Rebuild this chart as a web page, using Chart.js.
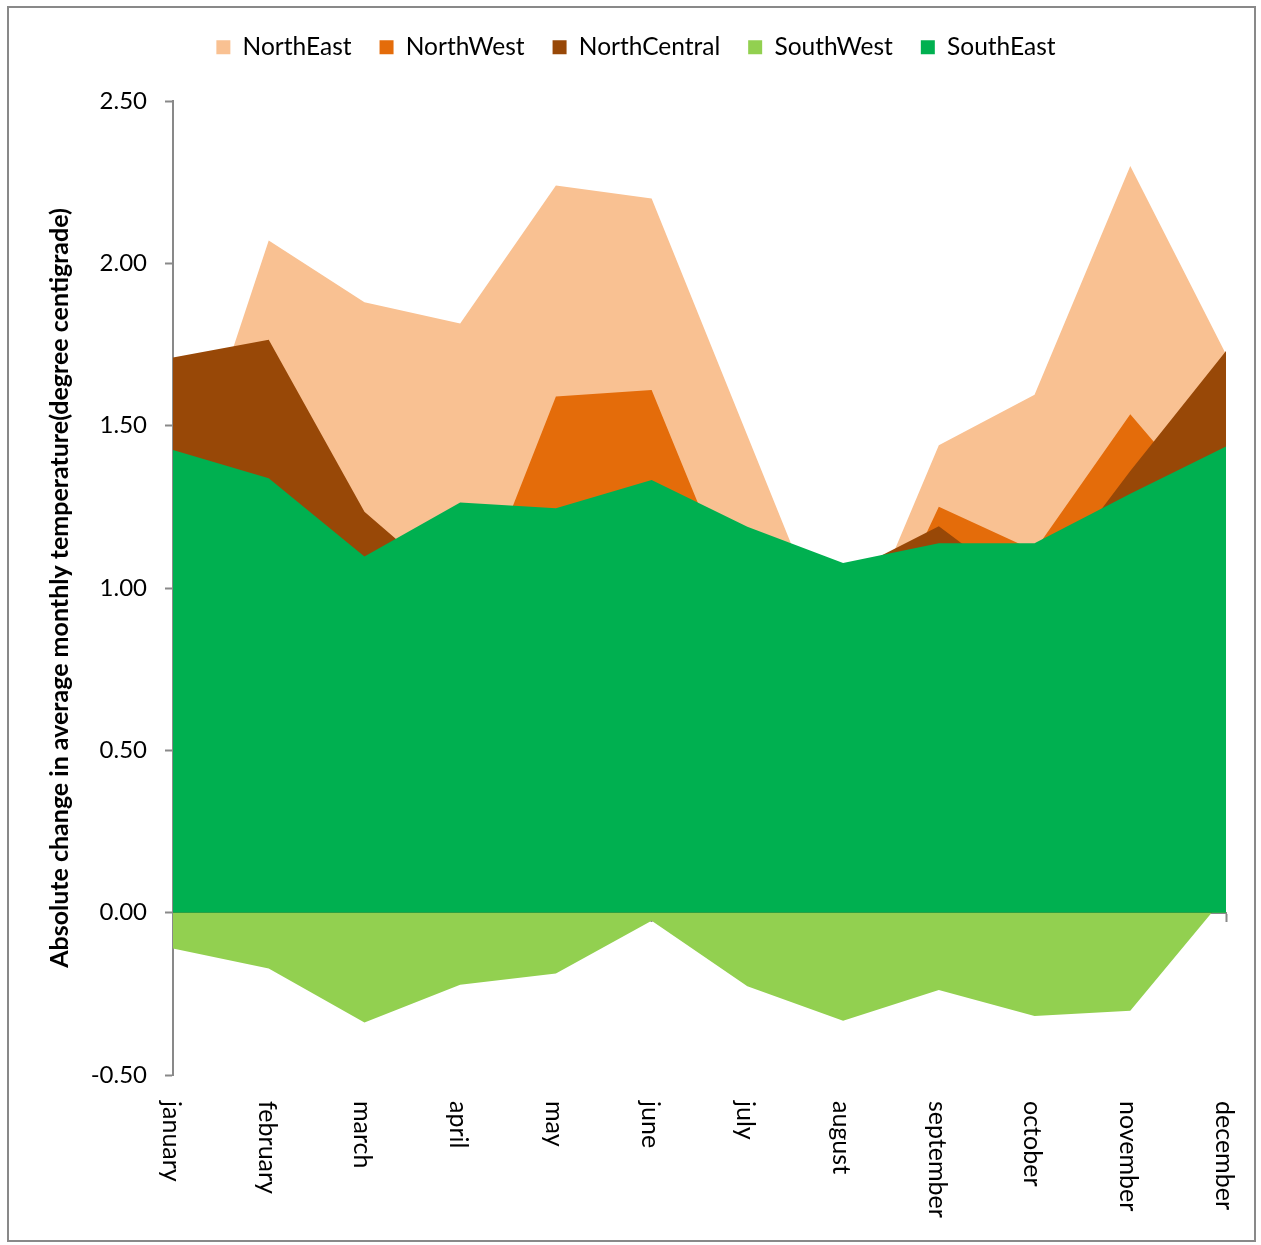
<!DOCTYPE html>
<html>
<head>
<meta charset="utf-8">
<style>
  html, body { margin: 0; padding: 0; background: #fff; }
  #wrap { width: 1261px; height: 1245px; }
</style>
<script src="https://cdn.jsdelivr.net/npm/chart.js@4.4.1/dist/chart.umd.min.js"></script>
</head>
<body>
<div id="wrap"><canvas id="chart" width="1261" height="1245"></canvas></div>
<script>
// Months along the horizontal axis
const months = ['january', 'february', 'march', 'april', 'may', 'june',
                'july', 'august', 'september', 'october', 'november', 'december'];

// Absolute change in average monthly temperature per region (°C)
const northEast    = [1.18, 2.07, 1.88, 1.815, 2.24, 2.20, 1.47, 0.74, 1.44, 1.595, 2.30, 1.72];
const northWest    = [1.20, 1.15, 1.00, 0.84, 1.59, 1.61, 0.89, 0.62, 1.25, 1.115, 1.535, 1.19];
const northCentral = [1.71, 1.765, 1.235, 0.98, 1.05, 1.10, 1.00, 1.04, 1.19, 0.97, 1.36, 1.73];
const southWest    = [-0.11, -0.172, -0.338, -0.222, -0.187, -0.025, -0.227, -0.333, -0.238, -0.318, -0.302, 0.053];
const southEast    = [1.425, 1.338, 1.097, 1.263, 1.246, 1.333, 1.189, 1.077, 1.138, 1.138, 1.29, 1.436];

// Region names and fill colours
const regionNames  = ['NorthEast', 'NorthWest', 'NorthCentral', 'SouthWest', 'SouthEast'];
const regionColors = ['#F9C192', '#E46C0A', '#984807', '#92D050', '#00B050'];

// Value axis range
const yMin = -0.5, yMax = 2.5, yStep = 0.5;

const axisGray = '#898989';
const fontFamily = 'Lato, "Open Sans", sans-serif';
Chart.defaults.font.family = fontFamily;
Chart.defaults.font.size = 24;
Chart.defaults.color = '#000';

const seriesValues = [northEast, northWest, northCentral, southWest, southEast];

// Later regions are painted over earlier ones (higher order = drawn first)
const datasets = regionNames.map((name, i) => ({
  label: name,
  data: seriesValues[i],
  backgroundColor: regionColors[i],
  borderColor: regionColors[i],
  borderWidth: 0,
  pointRadius: 0,
  pointHoverRadius: 0,
  tension: 0,
  fill: 'origin',
  order: regionNames.length - i
}));

// Page frame drawn around the whole figure
const framePlugin = {
  id: 'frame',
  beforeDraw(chart) {
    const ctx = chart.ctx;
    ctx.save();
    ctx.fillStyle = '#fff';
    ctx.fillRect(0, 0, chart.width, chart.height);
    ctx.strokeStyle = axisGray;
    ctx.lineWidth = 2;
    ctx.strokeRect(8, 7, 1247, 1234);
    ctx.restore();
  }
};

// Extra room between legend and plot; legend centred on the frame
const legendSpacing = {
  id: 'legendSpacing',
  beforeInit(chart) {
    const fit = chart.legend.fit;
    chart.legend.fit = function () {
      fit.bind(chart.legend)();
      this.height += 31.5;
    };
  },
  afterLayout(chart) {
    chart.legend.left += 23;
    chart.legend.right += 23;
  }
};

// Month names written downward below the plot
const monthLabels = {
  id: 'monthLabels',
  afterDraw(chart) {
    const xs = chart.scales.x;
    const ctx = chart.ctx;
    ctx.save();
    ctx.font = '25px ' + fontFamily;
    ctx.fillStyle = '#000';
    ctx.textAlign = 'left';
    ctx.textBaseline = 'middle';
    months.forEach((m, i) => {
      ctx.save();
      ctx.translate(xs.getPixelForValue(i) - 2, chart.chartArea.bottom + 26);
      ctx.rotate(Math.PI / 2);
      ctx.fillText(m, 0, 0);
      ctx.restore();
    });
    ctx.restore();
  }
};

new Chart(document.getElementById('chart'), {
  type: 'line',
  data: { labels: months, datasets },
  plugins: [framePlugin, legendSpacing, monthLabels],
  options: {
    responsive: false,
    animation: false,
    devicePixelRatio: 1,
    layout: { padding: { top: 7, left: 0, right: 35, bottom: 170 } },
    plugins: {
      tooltip: { enabled: false },
      legend: {
        position: 'top',
        labels: {
          boxWidth: 14,
          boxHeight: 14,
          padding: 28,
          color: '#000',
          font: { size: 24.5 },
          sort: (a, b) => a.datasetIndex - b.datasetIndex
        }
      }
    },
    scales: {
      x: {
        type: 'category',
        position: { y: 0 },
        offset: false,
        ticks: { display: false },
        grid: { drawOnChartArea: false, drawTicks: true, tickLength: 8, tickColor: axisGray, tickWidth: 2 },
        border: { display: true, color: axisGray, width: 2 }
      },
      y: {
        min: yMin,
        max: yMax,
        ticks: {
          stepSize: yStep,
          padding: 18,
          color: '#000',
          font: { size: 24 },
          callback: v => v.toFixed(2)
        },
        grid: { drawOnChartArea: false, drawTicks: true, tickLength: 8, tickColor: axisGray, tickWidth: 2 },
        border: { display: true, color: axisGray, width: 2 },
        title: {
          display: true,
          text: 'Absolute change in average monthly temperature(degree centigrade)',
          color: '#000',
          font: { size: 25, weight: 'bold' },
          padding: { top: 45, bottom: 0 }
        },
        afterFit(scale) { scale.width = 173; }
      }
    }
  }
});
</script>
</body>
</html>
